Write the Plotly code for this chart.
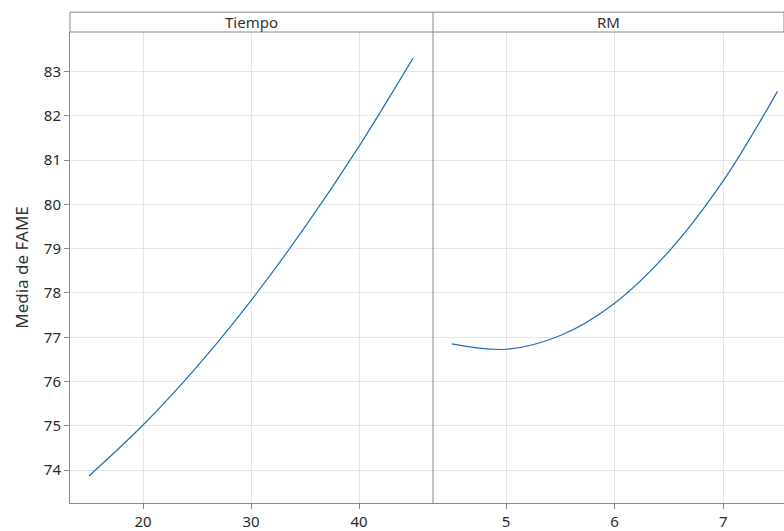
import plotly.graph_objects as go

tiempo_x = [15, 20, 25, 30, 35, 40, 45]
tiempo_y = [73.87, 75.02, 76.34, 77.83, 79.49, 81.31, 83.30]
rm_x = [4.5, 5.0, 5.5, 6.0, 6.5, 7.0, 7.5]
rm_y = [76.85, 76.73, 77.04, 77.77, 78.94, 80.53, 82.55]
panel_titles = ["Tiempo", "RM"]
y_ticks = [74, 75, 76, 77, 78, 79, 80, 81, 82, 83]
tiempo_ticks = [20, 30, 40]
rm_ticks = [5, 6, 7]

W, H = 784, 531
L, R, T, B = 70, 0, 32, 24
plot_w = W - L - R
plot_h = H - T - B
split = (433 - L) / plot_w
strip_h = 20 / plot_h

line_color = "#1f6cc0"
grid = "#e6e6e6"
frame = "#8a8a8a"
font = "Noto Sans, Open Sans, sans-serif"

fig = go.Figure()
fig.add_trace(go.Scatter(x=tiempo_x, y=tiempo_y, mode="lines", line=dict(color=line_color, width=1.2, shape="spline"),
                         xaxis="x", yaxis="y", showlegend=False))
fig.add_trace(go.Scatter(x=rm_x, y=rm_y, mode="lines", line=dict(color=line_color, width=1.2, shape="spline"),
                         xaxis="x2", yaxis="y", showlegend=False))

axis_common = dict(showgrid=True, gridcolor=grid, gridwidth=1, zeroline=False, showline=True, linecolor=frame,
                   linewidth=1, ticks="outside", ticklen=5, tickcolor=frame,
                   tickfont=dict(family=font, size=15, color="#2b2b2b"))

fig.update_layout(
    width=W, height=H, margin=dict(l=L, r=R, t=T, b=B),
    paper_bgcolor="white", plot_bgcolor="white",
    xaxis=dict(domain=[0, split], range=[13.24, 46.85], tickvals=tiempo_ticks, anchor="y", **axis_common),
    xaxis2=dict(domain=[split, 1], range=[4.327, 7.56], tickvals=rm_ticks, anchor="y", **axis_common),
    yaxis=dict(range=[73.26, 83.89], tickvals=y_ticks, anchor="x",
               title=dict(text="Media de FAME", font=dict(family=font, size=17, color="#333333"), standoff=10),
               **axis_common),
    showlegend=False,
)

shapes = []
shapes.append(dict(type="rect", xref="paper", yref="paper", x0=0, x1=1, y0=1, y1=1 + strip_h,
                   line=dict(color=frame, width=1), fillcolor="white", layer="above"))
shapes.append(dict(type="line", xref="paper", yref="paper", x0=split, x1=split, y0=0, y1=1 + strip_h,
                   line=dict(color=frame, width=1), layer="above"))
fig.update_layout(shapes=shapes)

for i, title in enumerate(panel_titles):
    cx = split / 2 if i == 0 else (split + 1) / 2
    fig.add_annotation(x=cx, y=1 + strip_h / 2, xref="paper", yref="paper", text=title, showarrow=False,
                       font=dict(family=font, size=15, color="#333333"), xanchor="center", yanchor="middle")

fig.write_html("out.html")
